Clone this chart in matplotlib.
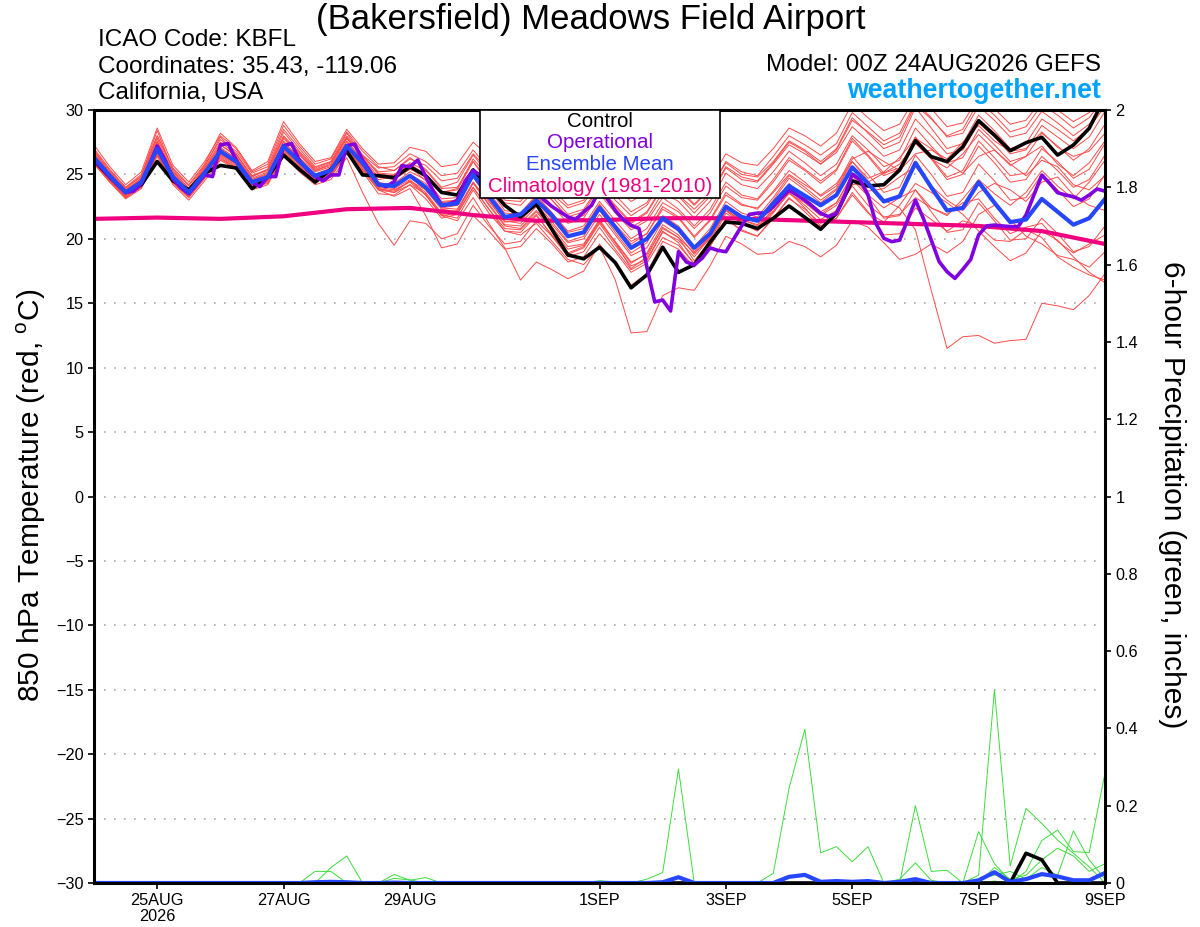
import numpy as np
import matplotlib
matplotlib.use('Agg')
import matplotlib.pyplot as plt
from matplotlib import font_manager as fm
from matplotlib.patches import Rectangle

names = {f.name for f in fm.fontManager.ttflist}
MAIN = 'Liberation Sans' if 'Liberation Sans' in names else 'DejaVu Sans'
plt.rcParams['font.family'] = [MAIN, 'DejaVu Sans']
plt.rcParams['mathtext.fontset'] = 'custom'
plt.rcParams['mathtext.rm'] = MAIN

# ---------------- data ----------------
hours6 = np.arange(0, 385, 6)     # 6-hourly forecast times (hours from 00Z 24AUG)
hours3 = np.arange(0, 385, 3)     # 3-hourly (operational run)
hours24 = np.arange(0, 385, 24)   # daily (climatology)

xtick_hours = [24, 72, 120, 192, 240, 288, 336, 384]
xtick_labels = ['25AUG\n2026', '27AUG', '29AUG', '1SEP', '3SEP', '5SEP', '7SEP', '9SEP']

control_t = [26.1, 24.8, 23.6, 24.2, 26.0, 24.5, 23.8, 25.1, 25.7, 25.5, 23.9, 24.8, 26.5,
             25.4, 24.4, 25.4, 26.8, 24.96, 24.9, 24.75, 25.6, 24.9, 23.6, 23.4, 25.35, 24.0,
             22.6, 21.7, 22.7, 20.7, 18.75, 18.45, 19.35, 18.15, 16.2, 17.2, 19.35, 17.4, 18.0,
             19.75, 21.3, 21.2, 20.8, 21.6, 22.55, 21.67, 20.74, 21.98, 24.5, 24.1, 24.2, 25.34,
             27.62, 26.38, 25.99, 27.15, 29.17, 28.06, 26.84, 27.46, 27.88, 26.5, 27.28, 28.58, 31.0]

mean_t = [26.3, 24.9, 23.6, 24.4, 27.0, 24.8, 23.6, 25.1, 26.8, 26.0, 24.4, 24.8, 27.2,
          26.0, 24.9, 25.3, 27.2, 25.9, 24.2, 24.1, 24.9, 24.0, 22.6, 22.75, 25.0, 23.3,
          21.7, 21.9, 23.0, 21.8, 20.2, 20.5, 22.4, 20.9, 19.3, 20.0, 21.6, 20.75, 19.3,
          20.4, 22.5, 21.7, 21.4, 22.75, 24.1, 23.35, 22.6, 23.4, 25.55, 24.3, 22.9, 23.3,
          25.9, 24.0, 22.2, 22.4, 24.4, 22.8, 21.3, 21.5, 23.1, 22.1, 21.1, 21.6, 23.1]

oper_t = [26.1, 25.5, 24.8, 24.2, 23.6, 23.7, 24.3, 25.7, 27.2, 26.1, 24.65, 23.97, 23.5,
          24.23, 24.96, 24.83, 27.3, 27.4, 26.1, 25.1, 24.4, 24.05, 24.83, 24.83, 27.23, 27.4,
          26.1, 25.35, 24.83, 24.5, 24.96, 24.96, 27.23, 27.36, 26.1, 25.2, 24.23, 24.05, 24.44,
          25.68, 25.6, 26.12, 24.83, 23.66, 22.63, 22.7, 23.0, 24.5, 25.3, 24.9, 24.3, 24.0,
          24.6, 25.2, 24.9, 24.2, 23.6, 23.0, 22.5, 22.1, 21.7, 21.5, 22.1, 22.6, 23.8,
          23.1, 22.2, 21.5, 21.05, 20.8, 17.8, 15.1, 15.25, 14.4, 19.0, 18.2, 17.97, 18.5,
          19.3, 19.1, 19.0, 20.0, 21.0, 21.9, 22.0, 22.0, 22.5, 23.15, 23.79, 23.4, 23.0,
          22.5, 21.98, 21.72, 21.98, 23.27, 25.03, 24.57, 23.4, 21.2, 20.04, 19.78, 19.9,
          21.46, 23.0, 21.59, 19.9, 18.23, 17.45, 16.93, 17.63, 18.4, 20.3, 21.0, 21.07,
          21.0, 20.95, 20.95, 21.85, 23.4, 24.95, 24.3, 23.58, 23.4, 23.27, 23.0, 23.4,
          23.87, 23.7]

clim_t = [21.55, 21.65, 21.55, 21.75, 22.3, 22.4, 21.85, 21.4, 21.45, 21.6, 21.6, 21.45,
          21.3, 21.15, 21.0, 20.6, 19.6]

m01 = [26.8, 25.2, 23.9, 24.9, 28.4, 25.3, 23.9, 25.6, 27.9, 26.6, 24.8, 25.4, 28.3, 26.8, 25.5, 26.0, 28.2,
       26.5, 25.5, 25.6, 26.6, 26.0, 24.9, 25.1, 26.9, 25.4, 24.0, 23.6, 24.8, 23.5, 22.4, 22.8, 24.4,
       23.0, 21.8, 22.6, 24.6, 23.8, 22.6, 23.9, 25.9, 25.0, 24.8, 26.0, 27.6, 26.9, 26.0, 27.0, 29.4,
       28.2, 27.0, 27.5, 30.2, 28.6, 27.0, 27.4, 29.6, 28.4, 27.0, 27.4, 29.3, 28.5, 27.6, 28.6, 30.3]
m02 = [26.0, 24.5, 23.2, 24.0, 26.6, 24.3, 23.2, 24.7, 26.3, 25.5, 24.0, 24.3, 26.6, 25.4, 24.4, 24.9, 26.7,
       25.2, 23.5, 23.4, 24.2, 23.5, 21.9, 21.6, 23.8, 22.0, 20.6, 20.3, 21.2, 19.8, 18.4, 18.0, 19.4,
       16.8, 12.7, 12.8, 15.6, 16.2, 16.0, 17.9, 20.2, 19.6, 18.8, 18.9, 19.8, 19.4, 18.6, 19.5, 21.4,
       20.9, 19.7, 18.4, 18.8, 19.6, 18.9, 19.8, 21.9, 22.6, 21.5, 20.2, 19.6, 18.7, 18.4, 17.8, 19.0]
m03 = [26.5, 25.0, 23.7, 24.5, 27.4, 24.9, 23.8, 25.2, 27.0, 26.3, 24.6, 25.0, 27.6, 26.2, 25.0, 25.5, 27.5,
       26.2, 24.6, 24.8, 25.6, 24.5, 22.8, 23.0, 25.4, 23.9, 22.2, 22.0, 23.4, 22.0, 20.5, 20.8, 22.7,
       21.1, 19.8, 20.4, 22.3, 21.6, 20.1, 21.4, 23.4, 22.6, 22.4, 23.6, 25.0, 24.2, 23.4, 24.3, 26.0,
       24.5, 23.0, 22.4, 20.7, 16.0, 11.5, 12.4, 12.5, 11.9, 12.1, 12.2, 15.0, 14.8, 14.5, 15.6, 17.3]
m04 = [25.8, 24.4, 23.1, 23.9, 26.4, 24.2, 23.0, 24.5, 26.1, 25.4, 23.8, 24.2, 26.4, 25.2, 24.2, 24.6, 26.3,
       23.6, 21.2, 19.5, 21.4, 21.2, 20.0, 20.4, 22.6, 21.0, 19.6, 19.8, 21.4, 20.2, 18.9, 19.4, 21.3,
       19.8, 18.2, 18.8, 20.8, 20.1, 18.9, 20.0, 22.2, 21.5, 21.0, 22.2, 23.5, 22.8, 21.8, 22.6, 24.6,
       23.3, 21.6, 21.8, 23.8, 22.1, 20.5, 20.7, 22.8, 21.4, 19.9, 20.0, 21.6, 20.4, 19.0, 19.4, 21.0]
m05 = [26.3, 24.7, 23.5, 24.3, 27.2, 24.7, 23.5, 25.0, 26.8, 26.0, 24.3, 24.7, 27.0, 25.9, 24.8, 25.2, 27.0,
       25.4, 23.8, 23.3, 23.9, 21.8, 19.3, 19.6, 21.8, 20.6, 19.2, 19.4, 20.8, 19.6, 18.2, 18.6, 20.4,
       19.0, 17.4, 18.1, 20.1, 19.5, 18.1, 19.4, 21.5, 20.7, 20.2, 21.6, 23.1, 22.3, 21.2, 22.1, 24.2,
       24.4, 25.1, 25.8, 27.4, 26.2, 25.5, 26.6, 28.1, 26.9, 25.7, 26.4, 27.2, 25.8, 24.9, 25.9, 27.6]
m06 = [27.0, 25.4, 24.0, 25.0, 28.0, 25.5, 24.2, 25.8, 28.2, 27.1, 25.3, 26.0, 29.1, 27.4, 26.0, 26.3, 28.5,
       27.0, 25.8, 25.9, 27.1, 26.8, 25.6, 25.8, 27.5, 26.4, 24.9, 24.6, 25.7, 24.8, 23.4, 23.8, 25.3,
       24.1, 22.9, 23.6, 25.2, 24.6, 23.4, 24.6, 26.6, 25.9, 25.7, 27.0, 28.6, 28.0, 27.2, 28.2, 30.5,
       29.4, 28.4, 28.9, 31.0, 30.1, 28.7, 29.0, 31.0, 30.1, 28.9, 29.2, 30.8, 30.0, 29.1, 29.8, 31.2]
m07 = [26.0, 24.6, 23.4, 24.2, 26.8, 24.6, 23.4, 24.8, 26.5, 25.7, 24.1, 24.5, 26.8, 25.7, 24.6, 25.0, 26.9,
       25.5, 23.9, 23.6, 24.5, 23.8, 22.3, 22.1, 24.3, 22.7, 21.1, 21.0, 22.2, 20.9, 19.4, 19.6, 21.5,
       19.7, 17.7, 18.6, 20.9, 20.1, 18.3, 19.8, 22.2, 21.2, 20.8, 22.4, 24.0, 23.0, 21.9, 22.8, 25.0,
       23.7, 23.9, 24.8, 25.6, 24.1, 23.0, 22.2, 23.6, 24.3, 23.8, 22.9, 24.4, 24.8, 23.4, 22.6, 22.2]
m08 = [26.6, 25.1, 23.8, 24.7, 27.6, 25.1, 23.8, 25.4, 27.3, 26.4, 24.7, 25.2, 27.8, 26.5, 25.3, 25.7, 27.8,
       26.3, 24.8, 24.6, 25.4, 24.9, 23.6, 23.8, 26.0, 24.2, 22.8, 22.6, 23.9, 22.6, 21.2, 21.6, 23.5,
       22.0, 20.7, 21.4, 23.2, 22.3, 21.0, 22.3, 24.4, 23.4, 23.1, 24.6, 26.3, 25.4, 24.5, 25.4, 27.8,
       26.5, 25.1, 25.5, 27.9, 26.2, 24.6, 25.0, 27.2, 25.9, 24.4, 24.6, 26.4, 25.3, 24.0, 24.6, 26.5]
m09 = [25.9, 24.5, 23.3, 24.1, 26.7, 24.5, 23.3, 24.9, 26.6, 25.8, 24.2, 24.6, 26.9, 25.8, 24.7, 25.1, 27.0,
       25.6, 24.0, 23.8, 24.4, 23.4, 21.8, 21.4, 23.2, 21.2, 19.3, 16.8, 18.2, 17.6, 16.9, 17.5, 19.6,
       18.0, 16.4, 17.3, 19.8, 19.2, 17.8, 19.6, 22.0, 21.2, 20.6, 22.0, 23.6, 22.4, 21.0, 21.6, 23.4,
       22.0, 21.3, 22.6, 24.3, 23.6, 22.8, 21.9, 20.6, 19.4, 18.3, 18.9, 20.6, 19.9, 18.6, 17.4, 16.6]
m10 = [27.3, 25.6, 24.2, 25.2, 28.6, 25.7, 24.4, 26.0, 28.0, 27.0, 25.2, 25.8, 28.8, 27.2, 25.8, 26.2, 28.3,
       26.8, 25.6, 25.3, 26.3, 25.4, 24.0, 24.4, 26.5, 25.0, 23.5, 23.2, 24.6, 23.3, 21.9, 22.3, 24.1,
       22.6, 21.3, 22.1, 24.1, 23.4, 22.3, 23.5, 25.6, 24.8, 24.5, 25.9, 27.5, 26.8, 25.8, 26.7, 28.7,
       27.6, 26.4, 26.9, 29.3, 28.0, 26.6, 26.9, 29.0, 27.9, 26.6, 26.9, 28.8, 27.9, 27.0, 27.9, 29.9]
m11 = [26.2, 24.8, 23.6, 24.4, 27.0, 24.8, 23.7, 25.2, 26.9, 26.1, 24.5, 24.9, 27.3, 26.1, 25.0, 25.4, 27.3,
       25.9, 24.3, 24.0, 24.8, 23.8, 22.4, 22.6, 24.8, 23.0, 21.3, 21.4, 22.7, 21.3, 19.8, 20.2, 22.2,
       20.5, 18.9, 19.7, 21.8, 21.0, 19.4, 20.8, 22.9, 22.0, 21.7, 23.2, 24.9, 24.0, 23.0, 23.9, 26.2,
       26.8, 26.0, 25.3, 26.6, 26.9, 26.2, 27.5, 28.8, 27.6, 26.8, 27.0, 28.3, 27.1, 26.4, 26.8, 28.2]
m12 = [26.4, 24.9, 23.7, 24.6, 27.3, 25.0, 23.8, 25.3, 27.1, 26.2, 24.6, 25.1, 27.5, 26.3, 25.2, 25.6, 27.6,
       26.1, 24.4, 24.1, 25.0, 24.3, 22.9, 23.0, 25.3, 23.6, 22.0, 21.9, 23.3, 22.0, 20.6, 21.0, 22.9,
       21.4, 20.0, 20.8, 22.8, 22.1, 20.8, 22.0, 24.1, 23.2, 23.0, 24.4, 26.1, 25.3, 24.3, 25.3, 27.6,
       26.4, 24.9, 25.4, 27.9, 26.3, 24.8, 25.3, 27.6, 26.3, 24.9, 25.1, 27.0, 26.0, 24.7, 25.4, 27.4]
m13 = [26.1, 24.6, 23.4, 24.2, 26.9, 24.6, 23.4, 24.9, 26.6, 25.8, 24.2, 24.6, 26.9, 25.8, 24.7, 25.1, 27.0,
       25.7, 24.2, 24.1, 24.9, 24.0, 22.4, 22.3, 24.4, 22.6, 21.0, 20.8, 22.1, 20.7, 19.2, 19.5, 21.4,
       19.7, 18.1, 18.9, 21.1, 20.3, 18.8, 20.2, 22.5, 21.5, 21.1, 22.6, 24.3, 23.2, 22.1, 22.8, 24.9,
       23.4, 22.4, 23.2, 23.8, 22.4, 21.8, 23.1, 24.6, 23.5, 22.6, 23.6, 25.3, 24.1, 23.1, 24.4, 26.1]
m14 = [26.7, 25.1, 23.8, 24.7, 27.8, 25.2, 23.9, 25.5, 27.5, 26.6, 24.9, 25.4, 28.0, 26.7, 25.4, 25.9, 28.0,
       26.5, 25.0, 24.9, 25.9, 25.3, 23.9, 24.0, 26.0, 24.5, 23.0, 22.9, 24.3, 23.0, 21.7, 22.1, 24.0,
       22.5, 21.2, 22.0, 24.0, 23.3, 22.0, 23.3, 25.5, 24.6, 24.4, 25.8, 27.3, 26.6, 25.8, 26.9, 29.2,
       28.3, 27.3, 27.9, 30.4, 29.3, 28.0, 28.5, 30.7, 29.6, 28.3, 28.7, 30.4, 29.6, 28.6, 29.4, 31.0]
m15 = [25.9, 24.4, 23.2, 24.0, 26.5, 24.4, 23.2, 24.7, 26.2, 25.5, 23.9, 24.4, 26.5, 25.4, 24.4, 24.8, 26.6,
       25.3, 23.8, 23.6, 24.2, 23.1, 21.6, 21.9, 24.0, 22.3, 20.6, 20.5, 21.8, 20.3, 18.8, 19.3, 21.2,
       19.5, 17.9, 18.4, 20.6, 19.7, 18.0, 19.4, 21.6, 20.6, 20.2, 21.6, 23.2, 22.1, 20.9, 21.6, 23.6,
       22.1, 20.3, 20.4, 22.4, 21.5, 20.6, 21.4, 21.0, 19.9, 19.8, 20.7, 20.1, 18.6, 17.8, 17.2, 16.8]
m16 = [26.5, 25.0, 23.8, 24.6, 27.5, 25.0, 23.8, 25.4, 27.3, 26.5, 24.9, 25.3, 27.9, 26.6, 25.3, 25.8, 27.9,
       26.4, 25.1, 25.0, 25.8, 25.0, 23.6, 23.9, 26.2, 24.8, 23.3, 23.1, 24.4, 23.0, 21.6, 21.8, 23.7,
       22.2, 20.9, 21.6, 23.6, 22.9, 21.6, 22.9, 25.1, 24.2, 23.9, 25.2, 26.8, 25.9, 24.9, 25.8, 28.0,
       26.9, 25.6, 26.1, 28.6, 27.2, 25.9, 26.3, 28.5, 27.3, 26.0, 26.4, 28.2, 27.2, 26.1, 27.0, 28.9]
m17 = [26.2, 24.7, 23.5, 24.3, 26.9, 24.7, 23.5, 25.0, 26.7, 25.9, 24.3, 24.7, 27.1, 25.9, 24.8, 25.2, 27.1,
       25.6, 24.1, 23.9, 24.6, 23.4, 21.8, 22.0, 24.0, 22.3, 20.8, 20.7, 21.9, 20.2, 18.6, 19.0, 20.9,
       19.2, 17.6, 18.3, 20.5, 19.9, 18.6, 20.1, 22.4, 21.7, 21.4, 23.0, 24.7, 23.8, 22.8, 23.8, 26.0,
       24.7, 25.2, 26.3, 27.8, 27.0, 25.9, 25.1, 26.4, 26.9, 25.8, 24.9, 26.1, 25.6, 24.2, 23.8, 24.9]
m18 = [26.3, 24.9, 23.6, 24.5, 27.1, 24.9, 23.6, 25.1, 26.9, 26.0, 24.4, 24.9, 27.2, 26.0, 24.9, 25.3, 27.2,
       25.8, 24.3, 24.3, 25.2, 24.6, 23.1, 23.2, 25.2, 23.4, 21.8, 21.7, 22.9, 21.5, 20.1, 20.6, 22.6,
       21.0, 19.6, 20.4, 22.5, 21.7, 20.2, 21.5, 23.6, 22.7, 22.3, 23.7, 25.3, 24.4, 23.3, 24.1, 26.4,
       25.0, 23.6, 24.0, 26.5, 25.0, 23.3, 23.6, 25.8, 24.5, 23.0, 23.2, 25.0, 23.8, 22.5, 23.1, 25.0]
m19 = [26.9, 25.3, 24.0, 24.8, 28.0, 25.4, 24.1, 25.7, 27.7, 26.8, 25.1, 25.6, 28.5, 27.0, 25.6, 26.0, 27.8,
       26.4, 25.2, 25.3, 26.2, 25.7, 24.5, 24.7, 26.6, 25.3, 23.8, 23.7, 25.0, 23.9, 22.6, 23.0, 24.8,
       23.4, 22.1, 22.8, 24.8, 24.0, 22.7, 23.9, 26.0, 25.2, 24.9, 26.4, 28.0, 27.3, 26.5, 27.4, 29.8,
       28.7, 27.6, 28.2, 30.6, 29.4, 27.9, 28.2, 30.3, 29.2, 27.9, 28.2, 29.9, 29.0, 28.0, 28.9, 30.6]
m20 = [26.0, 24.5, 23.3, 24.1, 26.6, 24.5, 23.3, 24.8, 26.4, 25.6, 24.0, 24.5, 26.7, 25.6, 24.5, 24.9, 26.8,
       25.4, 23.9, 23.7, 24.5, 23.6, 22.0, 22.2, 24.4, 22.9, 21.4, 21.2, 22.5, 21.1, 19.7, 20.0, 21.9,
       20.3, 18.7, 19.3, 21.4, 20.6, 19.0, 20.2, 22.3, 21.3, 20.8, 22.1, 23.6, 22.6, 21.5, 22.2, 24.1,
       22.6, 21.7, 21.9, 23.2, 22.4, 21.9, 22.8, 23.1, 21.6, 20.4, 20.9, 21.2, 19.8, 18.9, 19.6, 20.3]
members_t = [m01, m02, m03, m04, m05, m06, m07, m08, m09, m10,
             m11, m12, m13, m14, m15, m16, m17, m18, m19, m20]

# 6-hour precipitation (inches), 65 values each
p01 = [0, 0, 0, 0, 0, 0, 0, 0, 0, 0, 0, 0, 0,
       0, 0.03, 0.03, 0, 0, 0, 0.022, 0.007, 0.014, 0, 0, 0, 0,
       0, 0, 0, 0, 0, 0, 0, 0, 0, 0, 0, 0, 0,
       0, 0, 0, 0, 0, 0, 0, 0, 0, 0, 0, 0, 0,
       0, 0, 0, 0, 0, 0, 0, 0, 0, 0, 0, 0, 0]
p02 = [0, 0, 0, 0, 0, 0, 0, 0, 0, 0, 0, 0, 0,
       0, 0, 0.04, 0.07, 0, 0, 0.012, 0.008, 0, 0, 0, 0, 0,
       0, 0, 0, 0, 0, 0, 0.006, 0.003, 0, 0, 0, 0, 0,
       0, 0, 0, 0, 0, 0, 0, 0, 0, 0, 0, 0, 0,
       0, 0, 0, 0, 0, 0, 0, 0, 0, 0, 0, 0, 0]
p03 = [0, 0, 0, 0, 0, 0, 0, 0, 0, 0, 0, 0, 0,
       0, 0, 0, 0, 0, 0, 0, 0, 0, 0, 0, 0, 0,
       0, 0, 0, 0, 0, 0, 0, 0, 0, 0.01, 0.027, 0.295, 0,
       0, 0, 0, 0, 0, 0, 0, 0, 0, 0, 0, 0, 0,
       0, 0, 0, 0, 0, 0, 0, 0, 0, 0, 0, 0, 0]
p04 = [0, 0, 0, 0, 0, 0, 0, 0, 0, 0, 0, 0, 0,
       0, 0, 0, 0, 0, 0, 0, 0, 0, 0, 0, 0, 0,
       0, 0, 0, 0, 0, 0, 0, 0, 0, 0, 0, 0, 0,
       0, 0, 0, 0, 0.025, 0.245, 0.398, 0.078, 0.094, 0.055, 0.094, 0, 0,
       0, 0, 0, 0, 0, 0, 0, 0, 0, 0, 0, 0, 0]
p05 = [0, 0, 0, 0, 0, 0, 0, 0, 0, 0, 0, 0, 0,
       0, 0, 0, 0, 0, 0, 0, 0, 0, 0, 0, 0, 0,
       0, 0, 0, 0, 0, 0, 0, 0, 0, 0, 0, 0, 0,
       0, 0, 0, 0, 0, 0, 0, 0, 0, 0, 0, 0, 0,
       0.2, 0.03, 0.033, 0, 0, 0, 0, 0, 0, 0, 0, 0, 0]
p06 = [0, 0, 0, 0, 0, 0, 0, 0, 0, 0, 0, 0, 0,
       0, 0, 0, 0, 0, 0, 0, 0, 0, 0, 0, 0, 0,
       0, 0, 0, 0, 0, 0, 0, 0, 0, 0, 0, 0, 0,
       0, 0, 0, 0, 0, 0, 0, 0, 0, 0, 0, 0, 0.01,
       0.052, 0.007, 0, 0, 0.133, 0.05, 0.005, 0, 0, 0, 0, 0, 0]
p07 = [0, 0, 0, 0, 0, 0, 0, 0, 0, 0, 0, 0, 0,
       0, 0, 0, 0, 0, 0, 0, 0, 0, 0, 0, 0, 0,
       0, 0, 0, 0, 0, 0, 0, 0, 0, 0, 0, 0, 0,
       0, 0, 0, 0, 0, 0, 0, 0, 0, 0, 0, 0, 0,
       0, 0, 0, 0, 0.02, 0.5, 0.044, 0.193, 0.154, 0.111, 0.077, 0.042, 0]
p08 = [0, 0, 0, 0, 0, 0, 0, 0, 0, 0, 0, 0, 0,
       0, 0, 0, 0, 0, 0, 0, 0, 0, 0, 0, 0, 0,
       0, 0, 0, 0, 0, 0, 0, 0, 0, 0, 0, 0, 0,
       0, 0, 0, 0, 0, 0, 0, 0, 0, 0, 0, 0, 0,
       0, 0, 0, 0, 0, 0.005, 0, 0.03, 0.11, 0.137, 0.081, 0.079, 0.284]
p09 = [0, 0, 0, 0, 0, 0, 0, 0, 0, 0, 0, 0, 0,
       0, 0, 0, 0, 0, 0, 0, 0, 0, 0, 0, 0, 0,
       0, 0, 0, 0, 0, 0, 0, 0, 0, 0, 0, 0, 0,
       0, 0, 0, 0, 0, 0, 0, 0, 0, 0, 0, 0, 0,
       0, 0, 0, 0, 0.01, 0.02, 0.03, 0.01, 0.04, 0.02, 0.135, 0.06, 0.01]
p10 = [0, 0, 0, 0, 0, 0, 0, 0, 0, 0, 0, 0, 0,
       0, 0, 0, 0, 0, 0, 0, 0, 0, 0, 0, 0, 0,
       0, 0, 0, 0, 0, 0, 0, 0, 0, 0, 0, 0, 0,
       0, 0, 0, 0, 0, 0, 0, 0, 0, 0, 0, 0, 0,
       0, 0, 0, 0, 0, 0.04, 0.01, 0.02, 0.06, 0.09, 0.07, 0.03, 0.05]
members_p = [p01, p02, p03, p04, p05, p06, p07, p08, p09, p10]

mean_p = [0, 0, 0, 0, 0, 0, 0, 0, 0, 0, 0, 0, 0,
          0, 0.002, 0.003, 0.002, 0, 0, 0.001, 0, 0, 0, 0, 0, 0,
          0, 0, 0, 0, 0, 0, 0, 0, 0, 0, 0.002, 0.015, 0,
          0, 0, 0, 0, 0, 0.016, 0.021, 0.003, 0.005, 0.003, 0.005, 0, 0.003,
          0.01, 0, 0, 0, 0.007, 0.028, 0.003, 0.01, 0.023, 0.017, 0.007, 0.007, 0.026]
control_p = [0, 0, 0, 0, 0, 0, 0, 0, 0, 0, 0, 0, 0,
             0, 0, 0, 0, 0, 0, 0, 0, 0, 0, 0, 0, 0,
             0, 0, 0, 0, 0, 0, 0, 0, 0, 0, 0, 0, 0,
             0, 0, 0, 0, 0, 0, 0, 0, 0, 0, 0, 0, 0,
             0, 0, 0, 0, 0, 0, 0, 0.077, 0.06, 0, 0, 0, 0]

# ---------------- styles ----------------
C_RED = '#ff4a4a'
C_GREEN = '#3ddc3d'
C_PURPLE = '#8000e0'
C_BLUE = '#2646ff'
C_MAGENTA = '#f0007f'
C_WEB = '#00a2ff'
TICK_SIZE = 11.7

fig = plt.figure(figsize=(12, 9.27), dpi=100)
ax = fig.add_axes([94 / 1200, 1 - 883 / 927, 1011 / 1200, 773 / 927])
ax2 = ax.twinx()
ax.set_zorder(ax2.get_zorder() + 1)
ax.patch.set_visible(False)

# precipitation (right axis)
for p in members_p:
    ax2.plot(hours6, p, color=C_GREEN, lw=0.7, zorder=2)
ax2.plot(hours6, control_p, color='black', lw=2.6, zorder=3)
ax2.plot(hours6, mean_p, color=C_BLUE, lw=3.0, zorder=4)
ax2.set_ylim(0, 2)
ax2.set_yticks(np.arange(0, 2.01, 0.2))
ax2.set_yticklabels(['0', '0.2', '0.4', '0.6', '0.8', '1', '1.2', '1.4', '1.6', '1.8', '2'])
for s in ax2.spines.values():
    s.set_visible(False)

# temperature (left axis)
for m in members_t:
    ax.plot(hours6, m, color=C_RED, lw=0.7, zorder=2)
ax.plot(hours24, clim_t, color=C_MAGENTA, lw=3.0, zorder=3, solid_joinstyle='round')
ax.plot(hours6, control_t, color='black', lw=2.6, zorder=4)
ax.plot(hours3, oper_t, color=C_PURPLE, lw=2.6, zorder=5)
ax.plot(hours6, mean_t, color=C_BLUE, lw=3.0, zorder=6)

ax.set_xlim(0, 384)
ax.set_ylim(-30, 30)
ax.set_yticks(np.arange(-30, 31, 5))
ax.set_xticks(xtick_hours)
ax.set_xticklabels(xtick_labels)

for y in np.arange(-25, 26, 5):
    ax.axhline(y, color='#aaaaaa', lw=1.2, linestyle=(0, (1, 5)), zorder=1)

for s in ax.spines.values():
    s.set_linewidth(2.2)
    s.set_zorder(20)

ax.tick_params(axis='both', direction='out', length=4.5, width=1.2, pad=3)
ax2.tick_params(axis='y', direction='out', length=4.5, width=1.2, pad=3)
for lab in ax.get_xticklabels() + ax.get_yticklabels() + ax2.get_yticklabels():
    lab.set_fontsize(TICK_SIZE)
for lab in ax.get_xticklabels():
    lab.set_linespacing(1.05)

# legend box
ax.add_patch(Rectangle((0.382, 0.886), 0.237, 0.114, transform=ax.transAxes,
                       facecolor='white', edgecolor='black', lw=1.2, zorder=30, clip_on=False))
leg_items = [('Control', 'black', 0.9855), ('Operational', C_PURPLE, 0.9575),
             ('Ensemble Mean', C_BLUE, 0.929), ('Climatology (1981-2010)', C_MAGENTA, 0.9005)]
for txt, col, yy in leg_items:
    ax.text(0.5005, yy, txt, color=col, fontsize=14.8, ha='center', va='center',
            transform=ax.transAxes, zorder=31)

# titles & annotations
fig.text(591 / 1200, 1 - 19 / 927, '(Bakersfield) Meadows Field Airport', fontsize=25,
         ha='center', va='center')
fig.text(98 / 1200, 1 - 46.5 / 927, 'ICAO Code: KBFL', fontsize=17.5, ha='left', va='baseline')
fig.text(98 / 1200, 1 - 73 / 927, 'Coordinates: 35.43, -119.06', fontsize=17.5, ha='left', va='baseline')
fig.text(98 / 1200, 1 - 99.5 / 927, 'California, USA', fontsize=17.5, ha='left', va='baseline')
fig.text(1101 / 1200, 1 - 71 / 927, 'Model: 00Z 24AUG2026 GEFS', fontsize=17.5, ha='right', va='baseline')
fig.text(1101 / 1200, 1 - 97.5 / 927, 'weathertogether.net', fontsize=19.3, fontweight='bold',
         color=C_WEB, ha='right', va='baseline')

fig.text(31 / 1200, 1 - 495 / 927, '850 hPa Temperature (red, $^{\\mathrm{o}}$C)', fontsize=21.5,
         rotation=90, ha='center', va='center')
fig.text(1172 / 1200, 1 - 495 / 927, '6-hour Precipitation (green, inches)', fontsize=21.5,
         rotation=-90, ha='center', va='center')

fig.savefig('out.png', dpi=100)
